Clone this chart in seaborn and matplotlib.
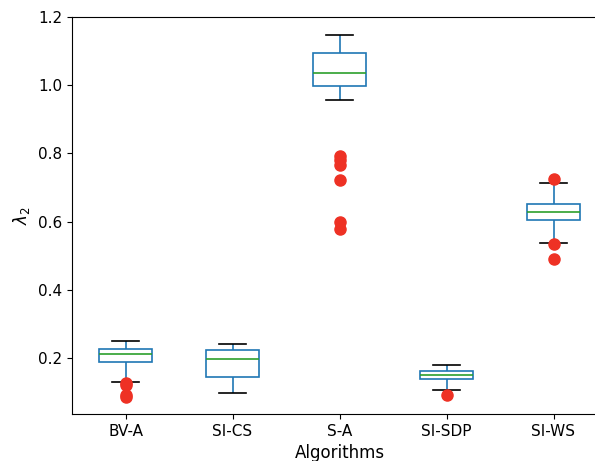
import numpy as np
import pandas as pd
import matplotlib
matplotlib.use("Agg")
import matplotlib.pyplot as plt
import seaborn as sns

# ---- values ----
algorithms = ["BV-A", "SI-CS", "S-A", "SI-SDP", "SI-WS"]
lower_whisker = [0.131, 0.097, 0.957, 0.106, 0.538]
q1            = [0.188, 0.144, 0.998, 0.138, 0.606]
median        = [0.212, 0.197, 1.036, 0.150, 0.628]
q3            = [0.227, 0.223, 1.094, 0.162, 0.652]
upper_whisker = [0.250, 0.241, 1.147, 0.180, 0.713]
low_outliers  = [[0.126, 0.121, 0.091, 0.086], [], [0.792, 0.780, 0.766, 0.722, 0.600, 0.578],
                 [0.093], [0.533, 0.490]]
high_outliers = [[], [], [], [], [0.726]]


def sample_from_stats(lw, a, m, b, uw, lo, hi):
    """Build a sample whose box-plot statistics equal the values read above."""
    k = max(len(lo), len(hi)) + 1
    seg0 = sorted(lo) + [lw] * (k - len(lo))
    fill1 = [a] * ((k - 1) // 2) + [m] * (k - 1 - (k - 1) // 2)
    fill2 = [m] * ((k - 1) // 2) + [b] * (k - 1 - (k - 1) // 2)
    seg3 = [uw] * (k - len(hi)) + sorted(hi)
    return seg0 + [a] + fill1 + [m] + fill2 + [b] + seg3


rows = []
for i, name in enumerate(algorithms):
    vals = sample_from_stats(lower_whisker[i], q1[i], median[i], q3[i], upper_whisker[i],
                             low_outliers[i], high_outliers[i])
    rows += [(name, v) for v in vals]
df = pd.DataFrame(rows, columns=["Algorithms", "value"])

fig = plt.figure(figsize=(5.95, 4.61), dpi=100)
W, H = 595, 461
ax = fig.add_axes([72 / W, (H - 414) / H, 535 / W, (414 - 17) / H])

blue = "#1f77b4"
sns.boxplot(
    data=df, x="Algorithms", y="value", order=algorithms, ax=ax,
    width=0.5, linewidth=1.2, whis=1.5,
    boxprops=dict(facecolor="none", edgecolor=blue),
    whiskerprops=dict(color=blue),
    capprops=dict(color="black"),
    medianprops=dict(color="#2ca02c"),
    flierprops=dict(marker="o", markerfacecolor="#ee3124", markeredgecolor="#ee3124",
                    markersize=8, linestyle="none"),
)

ax.set_xlim(-0.5, 4.5)
ax.set_ylim(0.036, 1.2)
ax.set_yticks([0.2, 0.4, 0.6, 0.8, 1.0, 1.2])
ax.tick_params(labelsize=11)
ax.set_xlabel("Algorithms", fontsize=12)
ax.set_ylabel(r"$\lambda_2$", fontsize=12)

fig.savefig("out.png", dpi=100)
